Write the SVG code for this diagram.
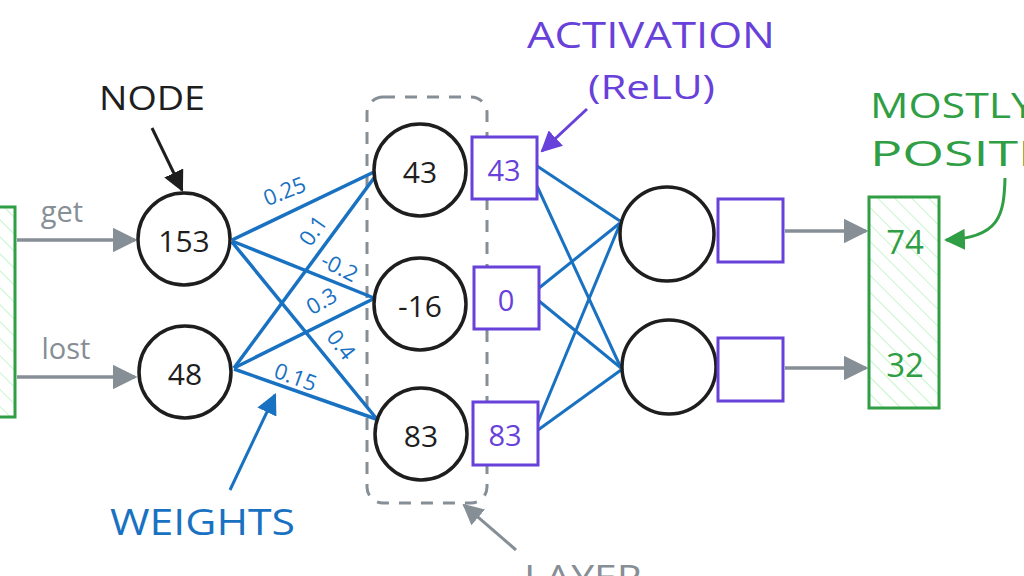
<svg xmlns="http://www.w3.org/2000/svg" width="1024" height="576" viewBox="0 0 1024 576">
<style>
text{font-family:"Open Sans","Liberation Sans",sans-serif;}
.node circle{fill:#fff;stroke:#1e1e1e;stroke-width:3.5;}
.node text{font-size:30px;fill:#1e1e1e;text-anchor:middle;dominant-baseline:central;}
.act rect{fill:#fff;stroke:#6741d9;stroke-width:3;}
.act text{font-size:29px;fill:#6741d9;text-anchor:middle;dominant-baseline:central;}
.w{stroke:#1971c2;stroke-width:3.5;fill:none;}
.w2{stroke:#1971c2;stroke-width:3;fill:none;}
.wl{font-size:22px;fill:#1971c2;text-anchor:middle;dominant-baseline:central;}
.gray{stroke:#868e96;stroke-width:3.5;fill:none;}
.lab{text-anchor:start;}
</style>
<defs>
<pattern id="hatch" width="12" height="12" patternUnits="userSpaceOnUse" patternTransform="rotate(-45)">
<line x1="0" y1="0" x2="0" y2="12" stroke="#b2f2bb" stroke-width="1.5"/>
</pattern>
<marker id="agr" viewBox="0 0 10 10" refX="9" refY="5" markerWidth="7" markerHeight="7" orient="auto">
<path d="M0,0 L10,5 L0,10 Z" fill="#868e96"/>
</marker>
<marker id="ak" viewBox="0 0 10 10" refX="9" refY="5" markerWidth="7" markerHeight="7" orient="auto">
<path d="M0,0 L10,5 L0,10 Z" fill="#1e1e1e"/>
</marker>
<marker id="ab" viewBox="0 0 10 10" refX="9" refY="5" markerWidth="7" markerHeight="7" orient="auto">
<path d="M0,0 L10,5 L0,10 Z" fill="#1971c2"/>
</marker>
<marker id="ap" viewBox="0 0 10 10" refX="9" refY="5" markerWidth="7" markerHeight="7" orient="auto">
<path d="M0,0 L10,5 L0,10 Z" fill="#6741d9"/>
</marker>
<marker id="agn" viewBox="0 0 10 10" refX="9" refY="5" markerWidth="7" markerHeight="7" orient="auto">
<path d="M0,0 L10,5 L0,10 Z" fill="#2f9e44"/>
</marker>
</defs>
<rect width="1024" height="576" fill="#fff"/>

<g id="input">
<rect x="-30" y="207" width="45" height="210" fill="url(#hatch)" stroke="#2f9e44" stroke-width="3"/>
</g>

<g id="layer">
<rect x="367" y="97" width="120" height="406" rx="16" fill="none" stroke="#868e96" stroke-width="3" stroke-dasharray="12 10"/>
</g>

<g id="connectors">
<line class="gray" x1="17" y1="240" x2="135" y2="240" marker-end="url(#agr)"/>
<line class="gray" x1="17" y1="377" x2="135" y2="377" marker-end="url(#agr)"/>
<line class="w" x1="232" y1="240" x2="374" y2="172"/>
<line class="w" x1="232" y1="241" x2="374" y2="298"/>
<line class="w" x1="232" y1="242" x2="376" y2="418"/>
<line class="w" x1="234" y1="368" x2="374" y2="178"/>
<line class="w" x1="234" y1="368" x2="373" y2="299"/>
<line class="w" x1="234" y1="369" x2="376" y2="419"/>
<line class="w2" x1="537" y1="166" x2="620" y2="221"/>
<line class="w2" x1="537" y1="186" x2="621" y2="368"/>
<line class="w2" x1="539" y1="288" x2="620" y2="223"/>
<line class="w2" x1="539" y1="301" x2="621" y2="368"/>
<line class="w2" x1="538" y1="422" x2="620" y2="224"/>
<line class="w2" x1="538" y1="430" x2="621" y2="370"/>
<line class="gray" x1="785" y1="231" x2="866" y2="231" marker-end="url(#agr)"/>
<line class="gray" x1="785" y1="368" x2="866" y2="368" marker-end="url(#agr)"/>
<line stroke="#1e1e1e" stroke-width="3" x1="152" y1="128" x2="182" y2="190" marker-end="url(#ak)"/>
<line stroke="#1971c2" stroke-width="3" x1="230" y1="490" x2="275" y2="395" marker-end="url(#ab)"/>
<line stroke="#6741d9" stroke-width="3" x1="587" y1="109" x2="542" y2="151" marker-end="url(#ap)"/>
<line stroke="#868e96" stroke-width="3" x1="516" y1="550" x2="464" y2="505" marker-end="url(#agr)"/>
<path d="M1005,178 C1004,215 1000,238 946,240" stroke="#2f9e44" stroke-width="3" fill="none" marker-end="url(#agn)"/>
</g>

<g id="weights">
<text class="wl" x="284" y="190" transform="rotate(-22 284 190)">0.25</text>
<text class="wl" x="312" y="230" transform="rotate(-55 312 230)">0.1</text>
<text class="wl" x="340" y="266" transform="rotate(27 340 266)">-0.2</text>
<text class="wl" x="321" y="300" transform="rotate(-30 321 300)">0.3</text>
<text class="wl" x="342" y="344" transform="rotate(52 342 344)">0.4</text>
<text class="wl" x="296" y="376" transform="rotate(20 296 376)">0.15</text>
</g>

<g id="n153" class="node"><circle cx="184" cy="239" r="46"/><text x="184" y="240">153</text></g>
<g id="n48" class="node"><circle cx="185" cy="372" r="46"/><text x="185" y="373">48</text></g>
<g id="h43" class="node"><circle cx="420" cy="170" r="46"/><text x="420" y="171">43</text></g>
<g id="h-16" class="node"><circle cx="420" cy="304" r="46"/><text x="420" y="305">-16</text></g>
<g id="h83" class="node"><circle cx="421" cy="434" r="46"/><text x="421" y="435">83</text></g>
<g id="o1" class="node"><circle cx="667" cy="234" r="47"/></g>
<g id="o2" class="node"><circle cx="669" cy="367" r="47"/></g>

<g id="a43" class="act"><rect x="472" y="137" width="65" height="62"/><text x="504" y="169">43</text></g>
<g id="a0" class="act"><rect x="474" y="267" width="65" height="62"/><text x="506" y="299">0</text></g>
<g id="a83" class="act"><rect x="473" y="402" width="65" height="63"/><text x="505" y="434">83</text></g>
<g id="ao1" class="act"><rect x="718" y="199" width="65" height="63"/></g>
<g id="ao2" class="act"><rect x="718" y="338" width="65" height="63"/></g>

<g id="output">
<rect x="869" y="197" width="70" height="211" fill="url(#hatch)" stroke="#2f9e44" stroke-width="3"/>
<text x="905" y="241" font-size="33" fill="#2f9e44" text-anchor="middle" dominant-baseline="central">74</text>
<text x="905" y="364" font-size="33" fill="#2f9e44" text-anchor="middle" dominant-baseline="central">32</text>
</g>

<g id="labels">
<text x="62" y="210" font-size="29" fill="#868e96" text-anchor="middle" dominant-baseline="central">get</text>
<text x="66" y="347" font-size="29" fill="#868e96" text-anchor="middle" dominant-baseline="central">lost</text>
<text class="lab" x="99" y="110" fill="#1e1e1e" font-size="33" textLength="106" lengthAdjust="spacingAndGlyphs">NODE</text>
<text class="lab" x="110" y="535" fill="#1971c2" font-size="36" textLength="185" lengthAdjust="spacingAndGlyphs">WEIGHTS</text>
<text class="lab" x="527" y="48" fill="#6741d9" font-size="37" textLength="248" lengthAdjust="spacingAndGlyphs">ACTIVATION</text>
<text class="lab" x="588" y="99" fill="#6741d9" font-size="33" textLength="127" lengthAdjust="spacingAndGlyphs">(ReLU)</text>
<text class="lab" x="870" y="118" fill="#2f9e44" font-size="35" textLength="165" lengthAdjust="spacingAndGlyphs">MOSTLY</text>
<text class="lab" x="870" y="166" fill="#2f9e44" font-size="35" textLength="225" lengthAdjust="spacingAndGlyphs">POSITIVE</text>
<text class="lab" x="524" y="590" fill="#868e96" font-size="34" textLength="118" lengthAdjust="spacingAndGlyphs">LAYER</text>
</g>
</svg>
